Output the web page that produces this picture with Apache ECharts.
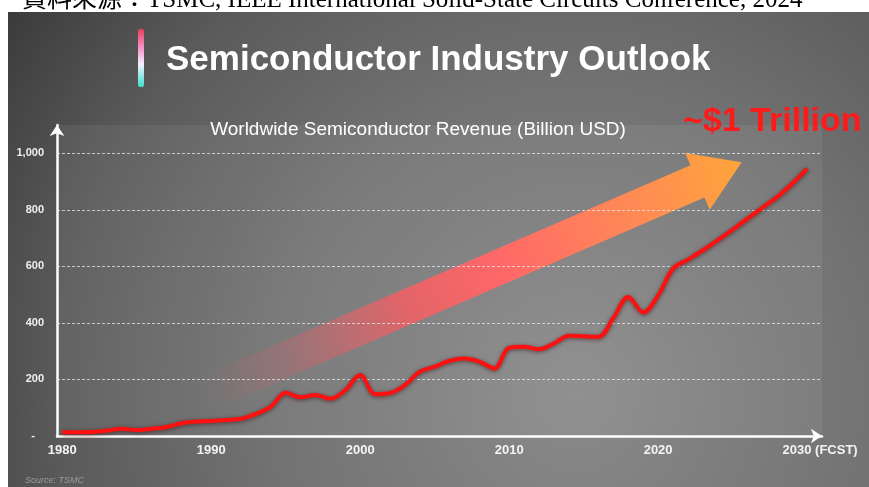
<!DOCTYPE html>
<html>
<head>
<meta charset="utf-8">
<script src="https://cdn.jsdelivr.net/npm/echarts@6/dist/echarts.min.js"></script>
<style>
  html, body { margin: 0; padding: 0; background: #ffffff; }
  #chart { width: 869px; height: 487px; }
</style>
</head>
<body>
<div id="chart"></div>
<script>
// Worldwide semiconductor revenue, billion USD (2024 onward is forecast)
const years = [
  1980, 1981, 1982, 1983, 1984, 1985, 1986, 1987, 1988, 1989,
  1990, 1991, 1992, 1993, 1994, 1995, 1996, 1997, 1998, 1999,
  2000, 2001, 2002, 2003, 2004, 2005, 2006, 2007, 2008, 2009,
  2010, 2011, 2012, 2013, 2014, 2015, 2016, 2017, 2018, 2019,
  2020, 2021, 2022, 2023, 2024, 2025, 2026, 2027, 2028, 2029,
  2030
];
const revenue = [
  13, 13, 14, 19, 26, 21, 26, 32, 45, 51,
  53, 57, 61, 78, 104, 153, 137, 145, 132, 162,
  216, 148, 152, 180, 227, 245, 266, 274, 263, 239,
  312, 316, 307, 327, 355, 353, 351, 418, 492, 437,
  497, 592, 624, 657, 693, 730, 769, 808, 846, 893,
  946
];
const xTicks = [1980, 1990, 2000, 2010, 2020, 2030];
const yTicks = [0, 200, 400, 600, 800, 1000];

// Trend arrow, anchored in axis units: tail (year, value) -> tip (year, value)
const trendFrom = [1989.6, 148];
const trendTo = [2025.6, 968];

const chart = echarts.init(document.getElementById('chart'), null, { renderer: 'canvas' });

const sans = 'Liberation Sans, Arial, sans-serif';

chart.setOption({
  animation: false,
  backgroundColor: '#ffffff',
  grid: {
    left: 57, right: 47, top: 125, bottom: 51,
    show: true,
    backgroundColor: 'rgba(255,255,255,0.06)',
    borderWidth: 0
  },
  xAxis: {
    type: 'value',
    min: 1979.65,
    max: 2031,
    splitLine: { show: false },
    axisLine: {
      show: true,
      lineStyle: { color: '#ffffff', width: 2.5 },
      symbol: ['none', 'arrow'],
      symbolSize: [11, 11]
    },
    axisTick: { show: false },
    axisLabel: {
      customValues: xTicks,
      margin: 8,
      color: '#f4f4f4',
      fontFamily: sans,
      fontWeight: 'bold',
      fontSize: 13,
      formatter: function (v) {
        return v === 2030 ? '{f|2030 (FCST)}' : String(v);
      },
      rich: {
        f: { color: '#f4f4f4', fontFamily: sans, fontWeight: 'bold', fontSize: 13, padding: [0, 0, 0, 26] }
      }
    }
  },
  yAxis: {
    type: 'value',
    min: 0,
    max: 1100,
    splitLine: { show: false },
    axisLine: {
      show: true,
      lineStyle: { color: '#ffffff', width: 2.5 },
      symbol: ['none', 'arrow'],
      symbolSize: [11, 11]
    },
    axisTick: { show: false },
    axisLabel: {
      customValues: yTicks,
      margin: 13,
      color: '#f0f0f0',
      fontFamily: sans,
      fontWeight: 'bold',
      fontSize: 11,
      formatter: function (v) {
        return v === 0 ? '-   ' : v.toLocaleString('en-US');
      }
    }
  },
  series: [
    {
      // dashed horizontal gridlines at the labelled values
      type: 'line',
      data: [],
      z: 1,
      silent: true,
      markLine: {
        silent: true,
        symbol: ['none', 'none'],
        label: { show: false },
        lineStyle: { color: 'rgba(235,235,235,0.75)', type: [3, 2], width: 1 },
        data: yTicks.filter(function (v) { return v > 0; }).map(function (v) { return { yAxis: v }; })
      }
    },
    {
      name: 'Revenue',
      type: 'line',
      z: 5,
      smooth: 0.35,
      showSymbol: false,
      data: years.map(function (y, i) { return [y, revenue[i]]; }),
      lineStyle: {
        color: '#ff1010',
        width: 4,
        shadowColor: 'rgba(60,0,0,0.55)',
        shadowBlur: 4,
        shadowOffsetY: 1
      }
    }
  ]
});

// Build the decorative trend arrow in pixel space from its axis anchors
const p0 = chart.convertToPixel({ gridIndex: 0 }, trendFrom);
const p1 = chart.convertToPixel({ gridIndex: 0 }, trendTo);
const dx = p1[0] - p0[0], dy = p1[1] - p0[1];
const len = Math.sqrt(dx * dx + dy * dy);
const ux = dx / len, uy = dy / len;       // along the arrow
const nx = -uy, ny = ux;                  // across the arrow
const bodyHalf = 17.5, headHalf = 31, headLen = 48;
function pt(along, across) {
  return [p0[0] + ux * along + nx * across, p0[1] + uy * along + ny * across];
}
const arrowPoints = [
  pt(0, -bodyHalf),
  pt(len - headLen, -bodyHalf),
  pt(len - headLen, -headHalf),
  pt(len, 0),
  pt(len - headLen, headHalf),
  pt(len - headLen, bodyHalf),
  pt(0, bodyHalf)
];

chart.setOption({
  graphic: [{
    elements: [
      {
        type: 'rect',
        z: -100,
        silent: true,
        shape: { x: 8, y: 12, width: 861, height: 475 },
        style: {
          fill: {
            type: 'radial', global: true,
            x: 575, y: 395, r: 690,
            colorStops: [
              { offset: 0, color: '#8a8a8a' },
              { offset: 0.45, color: '#727272' },
              { offset: 0.75, color: '#5a5a5a' },
              { offset: 1, color: '#3a3a3a' }
            ]
          }
        }
      },
      {
        type: 'text',
        z: -101,
        silent: true,
        x: 22, y: 13,
        style: {
          text: '資料來源：TSMC, IEEE International Solid-State Circuits Conference, 2024',
          fill: '#000000',
          font: '25px "Liberation Serif", "Noto Sans CJK TC", serif',
          textVerticalAlign: 'bottom'
        }
      },
      {
        type: 'rect',
        silent: true,
        shape: { x: 138, y: 29, width: 6, height: 58, r: 2 },
        style: {
          fill: {
            type: 'linear', x: 0, y: 0, x2: 0, y2: 1,
            colorStops: [
              { offset: 0, color: '#e8405a' },
              { offset: 0.35, color: '#f59ad0' },
              { offset: 0.6, color: '#f4f0ff' },
              { offset: 1, color: '#3ee0cc' }
            ]
          }
        }
      },
      {
        type: 'text',
        silent: true,
        x: 166, y: 60,
        style: {
          text: 'Semiconductor Industry Outlook',
          fill: '#ffffff',
          font: 'bold 35px "Liberation Sans", Arial, sans-serif',
          textVerticalAlign: 'middle',
          shadowColor: 'rgba(0,0,0,0.35)', shadowBlur: 3
        }
      },
      {
        type: 'text',
        silent: true,
        x: 418, y: 130,
        style: {
          text: 'Worldwide Semiconductor Revenue (Billion USD)',
          fill: '#ffffff',
          font: '19px "Liberation Sans", Arial, sans-serif',
          textAlign: 'center',
          textVerticalAlign: 'middle'
        }
      },
      {
        type: 'text',
        silent: true,
        x: 683, y: 122,
        style: {
          text: '~$1 Trillion',
          fill: '#ff1a1a',
          font: 'bold 34px "Liberation Sans", Arial, sans-serif',
          textVerticalAlign: 'middle',
          shadowColor: 'rgba(60,0,0,0.7)', shadowBlur: 3, shadowOffsetX: 1, shadowOffsetY: 1
        }
      },
      {
        type: 'text',
        silent: true,
        x: 25, y: 480,
        style: {
          text: 'Source: TSMC',
          fill: '#9a9a9a',
          font: 'italic 9px "Liberation Sans", Arial, sans-serif',
          textVerticalAlign: 'middle'
        }
      },
      {
        type: 'polygon',
        z: 3,
        silent: true,
        shape: { points: arrowPoints },
        style: {
          fill: {
            type: 'linear', global: true,
            x: p0[0], y: p0[1], x2: p1[0], y2: p1[1],
            colorStops: [
              { offset: 0, color: 'rgba(220,90,100,0)' },
              { offset: 0.15, color: 'rgba(225,95,105,0.25)' },
              { offset: 0.38, color: 'rgba(245,95,100,0.85)' },
              { offset: 0.55, color: '#ff6868' },
              { offset: 0.8, color: '#ff8a55' },
              { offset: 1, color: '#ffa53a' }
            ]
          }
        }
      }
    ]
  }]
});
</script>
</body>
</html>
